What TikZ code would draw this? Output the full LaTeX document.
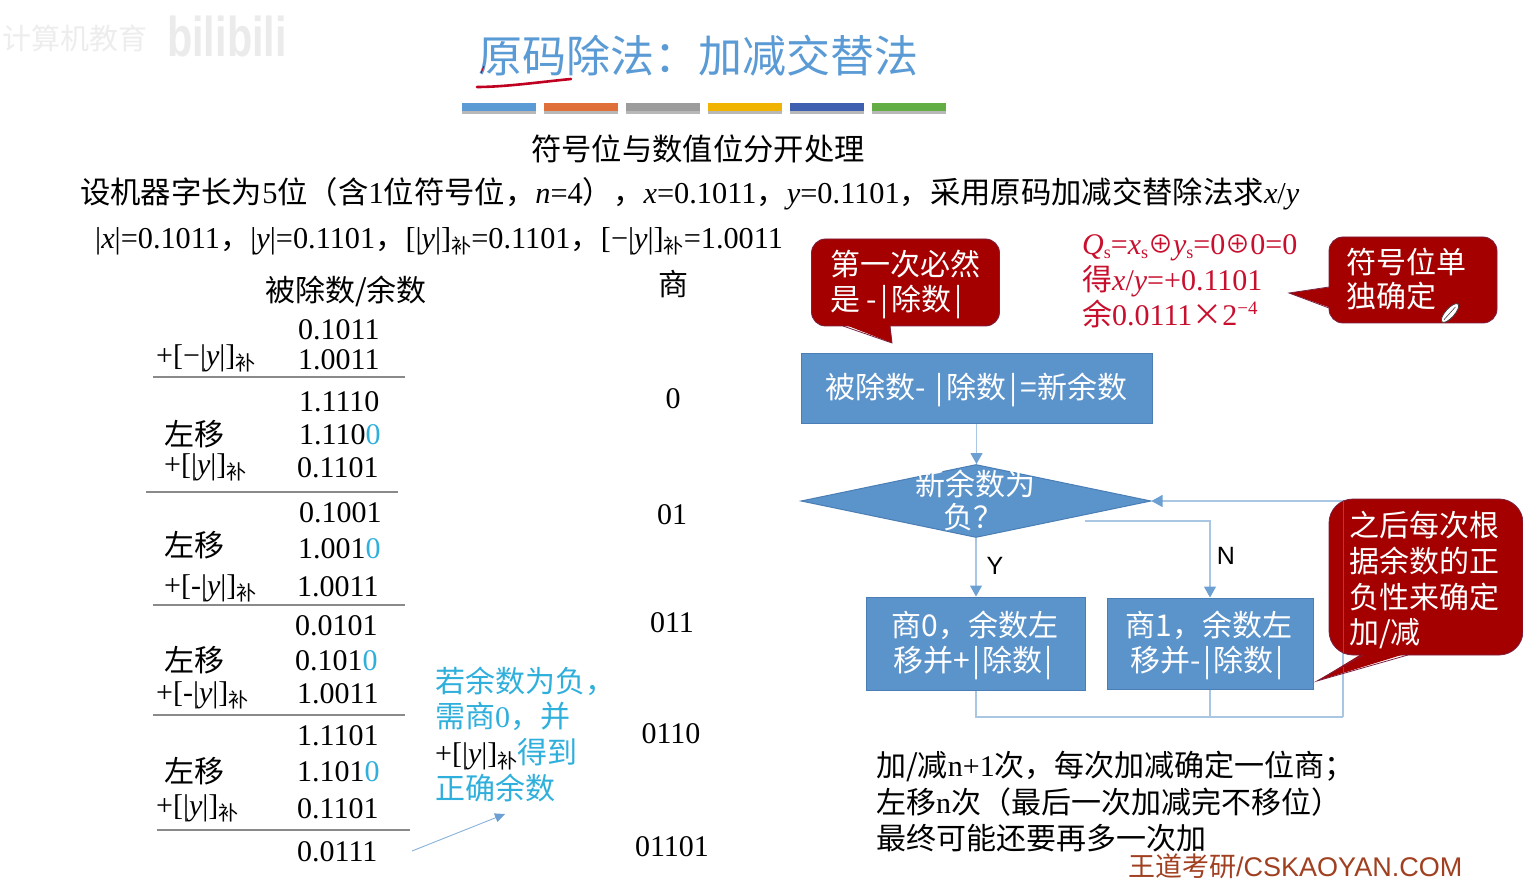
\documentclass[tikz,border=0pt]{standalone}
\usepackage{fontspec}
\setmainfont{Liberation Serif}
\newfontfamily\cjk{Noto Sans CJK SC}
\newfontfamily\lsans{Liberation Sans}
\usetikzlibrary{arrows.meta,shapes.geometric,calc}
\newcommand{\C}[1]{{\cjk #1}}
\newcommand{\fs}[1]{\fontsize{#1}{#1}\selectfont}
\newcommand{\bu}{\raisebox{-5pt}{\cjk\fs{20}补}}
\newcommand{\iv}[1]{\textit{#1}}
\newcommand{\Bar}[1]{\hspace{#1}|\hspace{#1}}
\newcommand{\oplusc}{\raisebox{1pt}{\cjk\fs{25}⊕}}
\definecolor{ttl}{HTML}{5B9BD5}
\definecolor{boxb}{HTML}{5B93CB}
\definecolor{boxe}{HTML}{4A7EB5}
\definecolor{conn}{HTML}{A9C7E3}
\definecolor{headc}{HTML}{6C9FD2}
\definecolor{calf}{HTML}{A50000}
\definecolor{cale}{HTML}{7A2040}
\definecolor{cy}{HTML}{2FAFDB}
\definecolor{rd}{HTML}{C8102E}
\definecolor{inkred}{HTML}{C00020}
\definecolor{wm}{HTML}{A04020}
\definecolor{rulec}{HTML}{8A8A8A}
\tikzset{
  x=1pt,y=-1pt,
  txt/.style={anchor=base west,inner sep=0pt,font=\fs{30}},
  ctr/.style={anchor=base,inner sep=0pt,font=\fs{30}},
  wtxt/.style={anchor=base,inner sep=0pt,font=\cjk\fs{30},text=white},
  ctxt/.style={anchor=base west,inner sep=0pt,font=\cjk\fs{30},text=white},
  bluebox/.style={draw=boxe,fill=boxb,line width=1pt,inner sep=0pt},
  calloutbox/.style={draw=cale,fill=calf,line width=.8pt,rounded corners=14pt,inner sep=0pt},
  ptr/.style={fill=calf},
  ptre/.style={draw=cale,line width=.8pt},
  conline/.style={draw=conn,line width=1.1pt},
  conarrow/.style={draw=conn,line width=1.1pt,-{Triangle[length=11pt,width=12pt,fill=headc,color=headc]}},
  rowrule/.style={draw=rulec,line width=1.2pt},
  barbox/.style={inner sep=0pt,minimum width=74pt,minimum height=8pt,anchor=north west},
  barshadow/.style={inner sep=0pt,minimum width=74pt,minimum height=7pt,anchor=north west,fill=black!28},
}
\begin{document}
\begin{tikzpicture}
\useasboundingbox (0,0) rectangle (1523,890);
\fill[white] (0,0) rectangle (1523,890);

% watermark
\node[anchor=base west,inner sep=0pt,text=black!7,font=\cjk\fs{29}] (wmL) at (2,50) {计算机教育};
\node[anchor=base west,inner sep=0pt,text=black!8,font=\lsans\bfseries\fs{56},transform shape,xscale=.74] (wmR) at (167,57) {bilibili};

% title
\node[anchor=base west,inner sep=0pt,text=ttl,font=\cjk\fs{44}] (title) at (478,73) {原码除法：加减交替法};
\draw[inkred,line width=2.6pt,line cap=round] (477,87) .. controls (505,87) and (540,82) .. (571,79);
\draw[inkred,line width=1pt] (481,73) -- (484,66);

% colour bars
\foreach \i/\x/\c in {1/462/5B9BD5,2/544/E0703A,3/626/9C9C9C,4/708/F0B400,5/790/3F5FB0,6/872/62AE45}{
  \definecolor{barc}{HTML}{\c}
  \node[barshadow] (bs\i) at (\x,107) {};
  \node[barbox,fill=barc] (b\i) at (\x,103) {};
}

% header texts
\node[ctr,font=\fs{30.3}] (sub) at (698,161) {\C{符号位与数值位分开处理}};
\node[txt,font=\fs{30.35}] (prob) at (80,204) {\C{设机器字长为}5\C{位（含}1\C{位符号位，}\iv{n}=4\C{），}\iv{x}=0.1011\C{，}\iv{y}=0.1101\C{，采用原码加减交替除法求}\iv{x}/\iv{y}};
\node[txt,font=\fs{30.3}] (given) at (95,249) {|\iv{x}|=0.1011\C{，}|\iv{y}|=0.1101\C{，}[|\iv{y}|]\bu=0.1101\C{，}[−|\iv{y}|]\bu=1.0011};

% table head
\node[ctr] (hd1) at (346,302) {\C{被除数/余数}};
\node[ctr] (hd2) at (673,296) {\C{商}};

% remainder column
\foreach \n/\x/\y/\s in {
 a/298/340/{0.1011}, b/298/370/{1.0011},
 c/299/411/{1.1110}, d/299/444/{1.110\textcolor{cy}{0}}, e/297/477/{0.1101},
 f/299/522/{0.1001}, g/298/558/{1.001\textcolor{cy}{0}}, h/297/596/{1.0011},
 i/295/635/{0.0101}, j/295/670/{0.101\textcolor{cy}{0}}, k/297/703/{1.0011},
 l/297/745/{1.1101}, m/297/781/{1.101\textcolor{cy}{0}}, o/297/818/{0.1101},
 p/297/861/{0.0111}}{
  \node[txt] (r\n) at (\x,\y) {\s};
}

% operation labels
\foreach \n/\x/\y/\s in {
 a/156/366/{+[−|\iv{y}|]\bu},
 b/164/445/{\C{左移}},
 c/164/474/{+[|\iv{y}|]\bu},
 d/164/556/{\C{左移}},
 e/164/595/{+[-|\iv{y}|]\bu},
 f/164/671/{\C{左移}},
 g/156/702/{+[-|\iv{y}|]\bu},
 h/164/782/{\C{左移}},
 i/156/815/{+[|\iv{y}|]\bu}}{
  \node[txt] (op\n) at (\x,\y) {\s};
}

% rules
\coordinate (la1) at (153,377); \coordinate (la2) at (405,377);
\coordinate (lb1) at (146,492); \coordinate (lb2) at (398,492);
\coordinate (lc1) at (153,605); \coordinate (lc2) at (405,605);
\coordinate (ld1) at (153,715); \coordinate (ld2) at (405,715);
\coordinate (le1) at (157,830); \coordinate (le2) at (410,830);
\draw[rowrule] (la1) -- (la2);
\draw[rowrule] (lb1) -- (lb2);
\draw[rowrule] (lc1) -- (lc2);
\draw[rowrule] (ld1) -- (ld2);
\draw[rowrule] (le1) -- (le2);

% quotient column
\foreach \n/\x/\y/\s in {a/673/408/0,b/672/524/01,c/672/632/011,d/671/743/0110,e/672/856/01101}{
  \node[ctr] (q\n) at (\x,\y) {\s};
}

% cyan note
\node[txt,text=cy] (n1) at (435,692) {\C{若余数为负，}};
\node[txt,text=cy] (n2) at (435,727) {\C{需商}0\C{，并}};
\node[txt] (n3) at (435,763) {+[|\iv{y}|]\bu\textcolor{cy}{\C{得到}}};
\node[txt,text=cy] (n4) at (435,799) {\C{正确余数}};
\coordinate (noteFrom) at (412,851);
\coordinate (noteTo) at (505,814);
\draw[draw=headc!80!white,line width=.9pt,-{Triangle[length=10pt,width=9pt,fill=headc,color=headc]}] (noteFrom) -- (noteTo);

% flow boxes
\node[bluebox,minimum width=351pt,minimum height=69pt] (S) at (976.5,388.5) {};
\node[diamond,bluebox,minimum width=350pt,minimum height=73pt] (D) at (976,501) {};
\node[bluebox,minimum width=219pt,minimum height=93pt] (L) at (976,643.5) {};
\node[bluebox,minimum width=206pt,minimum height=91pt] (R) at (1210,643.5) {};

% connectors
\coordinate (fb) at (1343,717);
\coordinate (nstart) at (1085,521);
\draw[conarrow] (S.south) -- (S.south |- D.north);
\draw[conarrow] (D.south) -- (D.south |- L.north);
\draw[conarrow] (nstart) -| (R.north);
\draw[conline] (L.south) |- (fb);
\draw[conline] (R.south) -- (R.south |- fb);
\draw[conarrow] (fb) |- (D.east);

% flow text
\node[wtxt] (St) at (976,399) {被除数- \Bar{3pt}除数\Bar{3pt}=新余数};
\node[wtxt] (Dt1) at (975,495) {新余数为};
\node[wtxt] (Dt2) at (973,528) {负？};
\node[wtxt] (Lt1) at (975,636) {商0，余数左};
\node[wtxt] (Lt2) at (973,671) {移并+\Bar{2pt}除数\Bar{2pt}};
\node[wtxt] (Rt1) at (1209,636) {商1，余数左};
\node[wtxt] (Rt2) at (1207,671) {移并-\Bar{2pt}除数\Bar{2pt}};
\node[anchor=base,inner sep=0pt,font=\lsans\fs{25}] (Y) at (995,574) {Y};
\node[anchor=base,inner sep=0pt,font=\lsans\fs{25}] (N) at (1226,564) {N};

% callout 1
\node[calloutbox,minimum width=188pt,minimum height=87pt] (c1) at (905.5,282.5) {};
\coordinate (c1a) at (843,324); \coordinate (c1b) at (892,343); \coordinate (c1c) at (890,324);
\fill[ptr] (c1a) -- (c1b) -- (c1c) -- cycle;
\draw[ptre] ($(c1a)+(0,2)$) -- (c1b) -- ($(c1c)+(0,2)$);
\node[ctxt] (c1t1) at (830,276) {第一次必然};
\node[ctxt] (c1t2) at (830,311) {是 -\Bar{3pt}除数\Bar{3pt}};

% callout 2
\node[calloutbox,minimum width=168pt,minimum height=86pt] (c2) at (1413,280) {};
\coordinate (c2a) at (1331,287); \coordinate (c2b) at (1289,293); \coordinate (c2c) at (1331,308);
\fill[ptr] (c2a) -- (c2b) -- (c2c) -- cycle;
\draw[ptre] ($(c2a)+(-2,0)$) -- (c2b) -- ($(c2c)+(-2,0)$);
\node[ctxt] (c2t1) at (1346,274) {符号位单};
\node[ctxt] (c2t2) at (1346,308) {独确定};

% pencil cursor
\draw[black!75,fill=white,line width=.8pt,rotate around={48:(1450,313)}] (1450,313) ellipse [x radius=12,y radius=4.5];
\draw[black!75,line width=.6pt,rotate around={48:(1450,313)}] (1441,313) -- (1458,313);

% callout 3
\node[calloutbox,rounded corners=24pt,minimum width=194pt,minimum height=156pt] (c3) at (1426,577) {};
\coordinate (c3a) at (1363,653); \coordinate (c3b) at (1317,681); \coordinate (c3c) at (1408,653);
\fill[ptr] (c3a) -- (c3b) -- (c3c) -- cycle;
\draw[ptre] ($(c3a)+(0,2)$) -- (c3b) -- ($(c3c)+(0,2)$);
\draw[calf!70!conn,line width=1pt] (1343,500) -- (1343,654);
\draw[calf!70!conn,line width=1pt] (1343,667) -- (1343,673);
\node[ctxt] (c3t1) at (1349,536) {之后每次根};
\node[ctxt] (c3t2) at (1349,572) {据余数的正};
\node[ctxt] (c3t3) at (1349,608) {负性来确定};
\node[ctxt] (c3t4) at (1349,643) {加/减};

% red result
\node[txt,text=rd] (q1) at (1082,255) {\iv{Q}\raisebox{-4pt}{\fs{18}s}=\iv{x}\raisebox{-4pt}{\fs{18}s}\oplusc\iv{y}\raisebox{-4pt}{\fs{18}s}=0\oplusc0=0};
\node[txt,text=rd] (q2) at (1082,291) {\C{得}\iv{x}/\iv{y}=+0.1101};
\node[txt,text=rd] (q3) at (1082,326) {\C{余}0.0111\C{×}2\raisebox{11pt}{\fs{19}−4}};

% summary
\node[txt] (s1) at (876,776) {\C{加/减}n+1\C{次，每次加减确定一位商；}};
\node[txt] (s2) at (876,813) {\C{左移}n\C{次（最后一次加减完不移位）}};
\node[txt] (s3) at (876,849) {\C{最终可能还要再多一次加}};

% brand
\node[anchor=base west,inner sep=0pt,text=wm,font=\lsans\fs{27}] (brand) at (1128,876) {\C{王道考研}/CSKAOYAN.COM};
\end{tikzpicture}
\end{document}
